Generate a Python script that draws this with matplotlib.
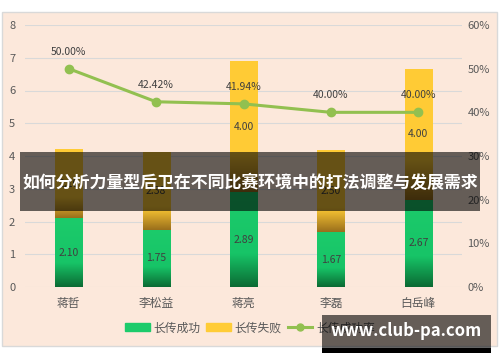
import numpy as np
import matplotlib.pyplot as plt
from matplotlib.colors import LinearSegmentedColormap
from matplotlib.patches import Rectangle
from matplotlib.lines import Line2D

plt.rcParams['font.family'] = ['Noto Sans CJK SC', 'DejaVu Sans']

players = ['蒋哲', '李松益', '蒋亮', '李磊', '白岳峰']
success = [2.10, 1.75, 2.89, 1.67, 2.67]
fail = [2.10, 2.38, 4.00, 2.50, 4.00]
rate = [50.00, 42.42, 41.94, 40.00, 40.00]
title_text = '如何分析力量型后卫在不同比赛环境中的打法调整与发展需求'

bg = '#fce8db'
green_cmap = LinearSegmentedColormap.from_list(
    'g', [(0, '#0b6a33'), (0.35, '#17c467'), (1, '#1ccb6b')])
yellow_cmap = LinearSegmentedColormap.from_list(
    'y', [(0, '#9a6f1c'), (0.3, '#ffcb35'), (1, '#ffcc36')])

fig = plt.figure(figsize=(5, 3.62), dpi=100)
fig.patch.set_facecolor('white')
# chart area with border
fig.patches.append(Rectangle((2 / 500, 16 / 362), 495 / 500, 334 / 362,
                             transform=fig.transFigure, facecolor=bg,
                             edgecolor='#d9d9d9', lw=1, zorder=-5))

ax = fig.add_axes([0.05, 0.207, 0.874, 0.724])
ax.set_facecolor('none')
x = np.arange(len(players))
w = 0.31


def gradient_bars(bars, cmap):
    grad = np.linspace(0, 1, 256).reshape(-1, 1)
    for b in bars:
        x0, y0 = b.get_x(), b.get_y()
        im = ax.imshow(grad, cmap=cmap, origin='lower', aspect='auto',
                       extent=[x0, x0 + b.get_width(), y0, y0 + b.get_height()],
                       zorder=2)
        im.set_clip_path(b)


b1 = ax.bar(x, success, w, color='#1ccb6b', zorder=2, lw=0)
b2 = ax.bar(x, fail, w, bottom=success, color='#ffcc36', zorder=2, lw=0)
gradient_bars(b1, green_cmap)
gradient_bars(b2, yellow_cmap)

for i in range(len(players)):
    ax.text(x[i], success[i] / 2, f'{success[i]:.2f}', ha='center', va='center',
            fontsize=7.5, color='#404040', zorder=5)
    ax.text(x[i], success[i] + fail[i] / 2, f'{fail[i]:.2f}', ha='center',
            va='center', fontsize=7.5, color='#404040', zorder=5)

ax.set_xlim(-0.5, len(players) - 0.5)
ax.set_ylim(0, 8)
ax.set_yticks(range(0, 9))
ax.grid(axis='y', color='#d9d9d9', lw=0.8, zorder=0)
ax.set_axisbelow(True)
ax.set_xticks(x)
ax.set_xticklabels(players, fontsize=8.5)
ax.tick_params(axis='both', length=0, colors='#595959')
ax.tick_params(axis='y', pad=7, labelsize=8)
ax.tick_params(axis='x', pad=7)
for s in ax.spines.values():
    s.set_visible(False)

ax2 = ax.twinx()
ax2.set_ylim(0, 60)
ax2.set_yticks(range(0, 61, 10))
ax2.set_yticklabels([f'{v}%' for v in range(0, 61, 10)])
ax2.tick_params(axis='y', length=0, labelsize=8, colors='#595959', pad=4)
for s in ax2.spines.values():
    s.set_visible(False)
ax2.plot(x, rate, color='#92c050', lw=2.2, marker='o', ms=6, zorder=4)
for i in range(len(players)):
    ax2.annotate(f'{rate[i]:.2f}%', (x[i], rate[i]), xytext=(0, 10),
                 textcoords='offset points', ha='center', fontsize=7.5,
                 color='#404040')

handles = [Rectangle((0, 0), 1, 1, color='#1ccb6b'),
           Rectangle((0, 0), 1, 1, color='#ffcc36'),
           Line2D([], [], color='#92c050', lw=2.2, marker='o', ms=5)]
fig.legend(handles, ['长传成功', '长传失败', '长传成功率'], loc='center',
           bbox_to_anchor=(0.5, 0.094), ncol=3, frameon=False, fontsize=8.5,
           handlelength=2.1, handletextpad=0.3, columnspacing=0.5,
           labelcolor='#595959')

# title banner
fig.patches.append(Rectangle((20 / 500, 1 - 211 / 362), 460 / 500, 59 / 362,
                             transform=fig.transFigure, facecolor='black',
                             alpha=0.6, lw=0, zorder=10))
fig.text(0.5, 1 - 183 / 362, title_text, ha='center', va='center',
         color='white', fontsize=12.2, fontweight='bold', zorder=11)

# watermark
fig.patches.append(Rectangle((322 / 500, 1 - 348 / 362), 169 / 500, 33 / 362,
                             transform=fig.transFigure, facecolor='black',
                             alpha=0.6, lw=0, zorder=10))
fig.patches.append(Rectangle((322 / 500, 1 - 353 / 362), 169 / 500, 5 / 362,
                             transform=fig.transFigure, facecolor='black',
                             lw=0, zorder=10))
fig.text(406 / 500, 1 - 331 / 362, 'www.club-pa.com', ha='center', va='center',
         color='white', fontsize=12, fontweight='bold', zorder=11)

fig.savefig('out.png', dpi=100, facecolor=fig.get_facecolor())
